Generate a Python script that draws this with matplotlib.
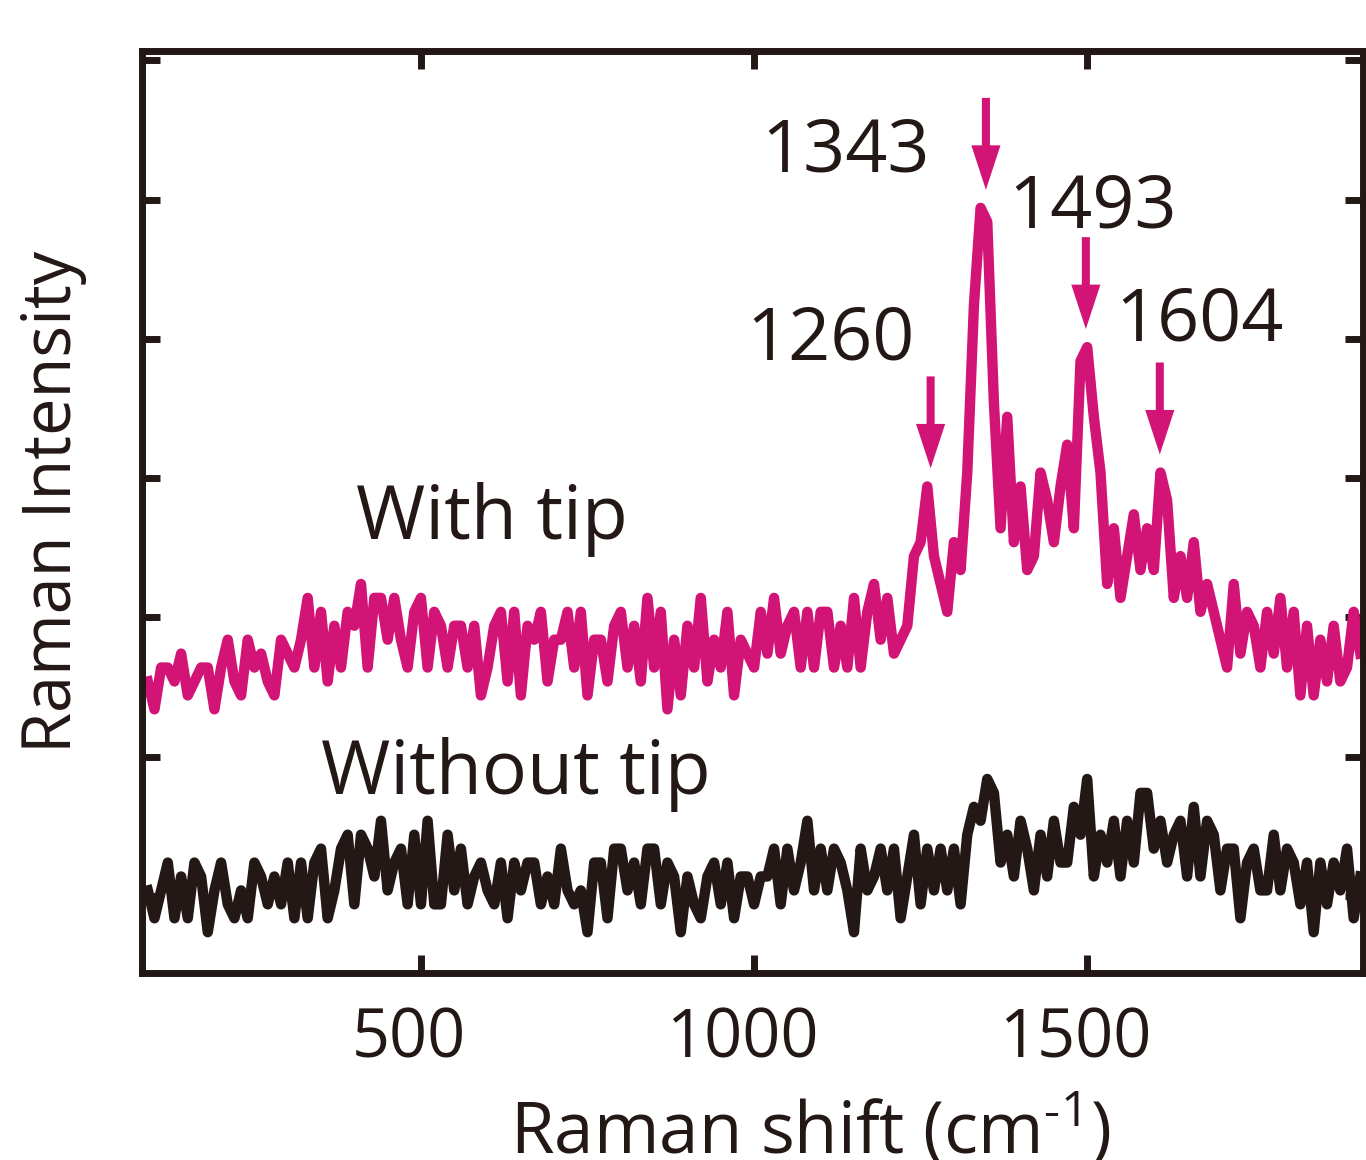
import numpy as np
import matplotlib
matplotlib.use('Agg')
import matplotlib.pyplot as plt
from matplotlib.transforms import ScaledTranslation

plt.rcParams['font.family'] = ['Open Sans', 'DejaVu Sans']
plt.rcParams['mathtext.default'] = 'regular'

# Raman shift axis (cm-1), one point every 10 cm-1
raman_shift = np.arange(90, 1911, 10)

# intensities in counts
with_tip = [
    25, 23, 26, 26, 25, 27, 24, 25, 26, 26,
    23, 26, 28, 25, 24, 28, 26, 27, 25, 24,
    28, 27, 26, 28, 31, 26, 30, 25, 29, 26,
    30, 29, 32, 26, 31, 31, 28, 31, 28, 26,
    30, 31, 26, 30, 29, 26, 29, 29, 26, 29,
    24, 26, 29, 30, 25, 30, 24, 29, 28, 30,
    25, 28,
    28, 30, 26, 30, 24, 28, 28, 25, 29, 30,
    26, 29, 25, 31, 26, 30, 23, 28, 24, 29,
    26, 31, 25, 28, 26, 30, 24, 28, 27, 26,
    30, 27, 31, 27, 29, 30, 26, 30, 26, 30,
    30, 26, 29, 26, 31, 26, 30, 32, 28, 31,
    27, 28,
    29, 34, 35, 39, 34, 32, 30, 35, 33, 40,
    52, 59, 58, 45, 36, 44, 35, 39, 33, 34,
    40, 38, 35, 39, 42, 36, 48, 49, 44, 40,
    32, 36, 31, 34, 37, 33, 36, 33, 40, 38,
    31, 34, 31, 35, 30, 32, 30, 28, 26, 32,
    27, 30, 29, 26, 30, 27, 31, 26, 30, 24,
    29, 24, 28, 25, 29, 25, 26, 30, 27,
]

without_tip = [
    10, 8, 10, 12, 8, 11, 8, 12, 11, 7,
    10, 12, 9, 8, 10, 8, 12, 11, 9, 11,
    9, 12, 8, 12, 8, 12, 13, 8, 10, 13,
    14, 9, 14, 13, 11, 15, 10, 12, 13, 9,
    14, 9, 15, 9, 9, 14, 10, 13, 9, 11,
    12, 10, 9, 12, 8, 12, 10, 12, 12, 9,
    11, 9,
    13, 10, 9, 10, 7, 12, 12, 8, 13, 13,
    10, 12, 9, 13, 13, 9, 12, 11, 7, 11,
    9, 8, 11, 12, 9, 12, 8, 11, 11, 9,
    11, 11, 13, 9, 13, 10, 12, 15, 10, 13,
    10, 13, 12, 10, 7, 13, 10, 11, 13, 10,
    13, 8, 11, 14, 9, 13, 10, 13, 10, 13,
    9,
    14, 16, 15, 18, 17, 12, 14, 11, 15, 13,
    10, 14, 11, 15, 12, 12, 16, 14, 18, 11,
    14, 12, 15, 11, 15, 12, 17, 17, 13, 15,
    12, 14, 15, 11, 16, 11, 15, 14, 10, 13,
    13, 8, 12, 13, 10, 10, 14, 10, 13, 12,
    9, 12, 7, 12, 9, 12, 10, 13, 8, 11,
]

peak_labels = ['1260', '1343', '1493', '1604']
peak_pos = [1260, 1343, 1493, 1604]
peak_height = [39, 59, 49, 40]

pink = '#D31477'
dark = '#231815'

fig = plt.figure(figsize=(13.66, 11.6), dpi=100)
ax = fig.add_axes([0.1043, 0.1612, 0.8935, 0.7948])

ax.plot(raman_shift, with_tip, color=pink, lw=7.5, solid_joinstyle='round')
ax.plot(raman_shift, without_tip, color=dark, lw=7.5, solid_joinstyle='round')

ax.set_xlim(82, 1914)
ax.set_ylim(4.07, 70.26)
ax.set_xticks([500, 1000, 1500])
ax.set_yticks(np.arange(9.6, 70, 10))
ax.set_yticklabels([])
ax.tick_params(direction='in', length=13, width=5, top=True, right=True,
               color=dark, labelsize=48, labelcolor=dark, pad=24)
for sp in ax.spines.values():
    sp.set_linewidth(5)
    sp.set_color(dark)

for lab in ax.get_xticklabels():
    lab.set_transform(lab.get_transform() + ScaledTranslation(-0.12, 0, fig.dpi_scale_trans))

# arrows over the peaks
for name, pos, h in zip(peak_labels, peak_pos, peak_height):
    tip = h + 1.3
    ax.annotate('', xy=(pos + 5, tip), xytext=(pos + 5, tip + 6.6),
                arrowprops=dict(arrowstyle='simple,head_length=32,head_width=21,tail_width=5.8',
                                mutation_scale=1, color=pink, lw=0, shrinkA=0, shrinkB=0))

label_xy = {'1343': (1137, 61.6), '1493': (1508, 57.6), '1260': (1114, 48.1), '1604': (1668, 49.5)}
for name in peak_labels:
    ax.text(*label_xy[name], name, ha='center', va='baseline', fontsize=53, color=dark)

ax.text(607, 35.2, 'With tip', ha='center', va='baseline', fontsize=54, color=dark)
ax.text(643, 16.9, 'Without tip', ha='center', va='baseline', fontsize=54, color=dark)

fig.text(0.593, 0.0055, 'Raman shift (cm$^{\u20101}$)', ha='center', va='baseline', fontsize=51, color=dark)
fig.text(0.039, 0.567, 'Raman Intensity', ha='center', va='center', rotation=90, fontsize=48, color=dark)

fig.savefig('out.png', dpi=100)
